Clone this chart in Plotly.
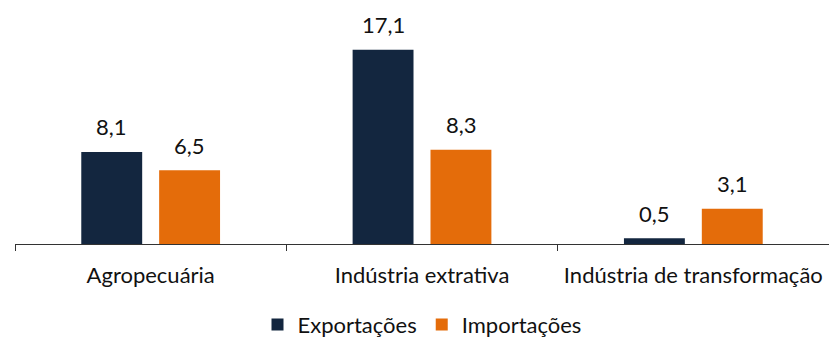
import plotly.graph_objects as go

categorias = ["Agropecuária", "Indústria extrativa", "Indústria de transformação"]
exportacoes = [8.1, 17.1, 0.5]
importacoes = [6.5, 8.3, 3.1]

COR_EXP = "#13263F"
COR_IMP = "#E46C0A"
FONTE = "Lato, 'Noto Sans', sans-serif"
TAM = 22

fig = go.Figure()
fig.add_trace(go.Bar(name="Exportações", x=categorias, y=exportacoes,
                     marker=dict(color=COR_EXP, line=dict(width=0))))
fig.add_trace(go.Bar(name="Importações", x=categorias, y=importacoes,
                     marker=dict(color=COR_IMP, line=dict(width=0))))

# rótulos de valor acima de cada barra (vírgula decimal)
for serie, valores in ((-1, exportacoes), (1, importacoes)):
    for cat, v in zip(categorias, valores):
        fig.add_annotation(x=cat, y=v, xref="x", yref="y",
                           text=f"{v:.1f}".replace(".", ","),
                           showarrow=False, xshift=39 * serie, yshift=25,
                           yanchor="middle",
                           font=dict(family=FONTE, size=TAM, color="#111111"))

fig.update_layout(
    width=829, height=338,
    margin=dict(l=15, r=0, t=10, b=94, autoexpand=False),
    paper_bgcolor="white", plot_bgcolor="white",
    barmode="group", bargap=0.426, bargroupgap=0.218,
    font=dict(family=FONTE, size=TAM, color="#111111"),
    showlegend=True,
    legend=dict(orientation="h", x=0.5, xanchor="center", y=-0.345, yanchor="middle",
                font=dict(family=FONTE, size=TAM, color="#111111"),
                itemwidth=30, traceorder="normal"),
    xaxis=dict(showline=True, linecolor="#333333", linewidth=1,
               ticks="outside", tickson="boundaries", ticklen=6, tickcolor="#333333",
               showgrid=False, range=[-0.5, 2.5], automargin=False,
               ticklabelstandoff=12,
               tickfont=dict(family=FONTE, size=TAM, color="#111111")),
    yaxis=dict(visible=False, range=[0, 20.6], showgrid=False, zeroline=False,
               automargin=False),
)

fig.write_html("out.html")
